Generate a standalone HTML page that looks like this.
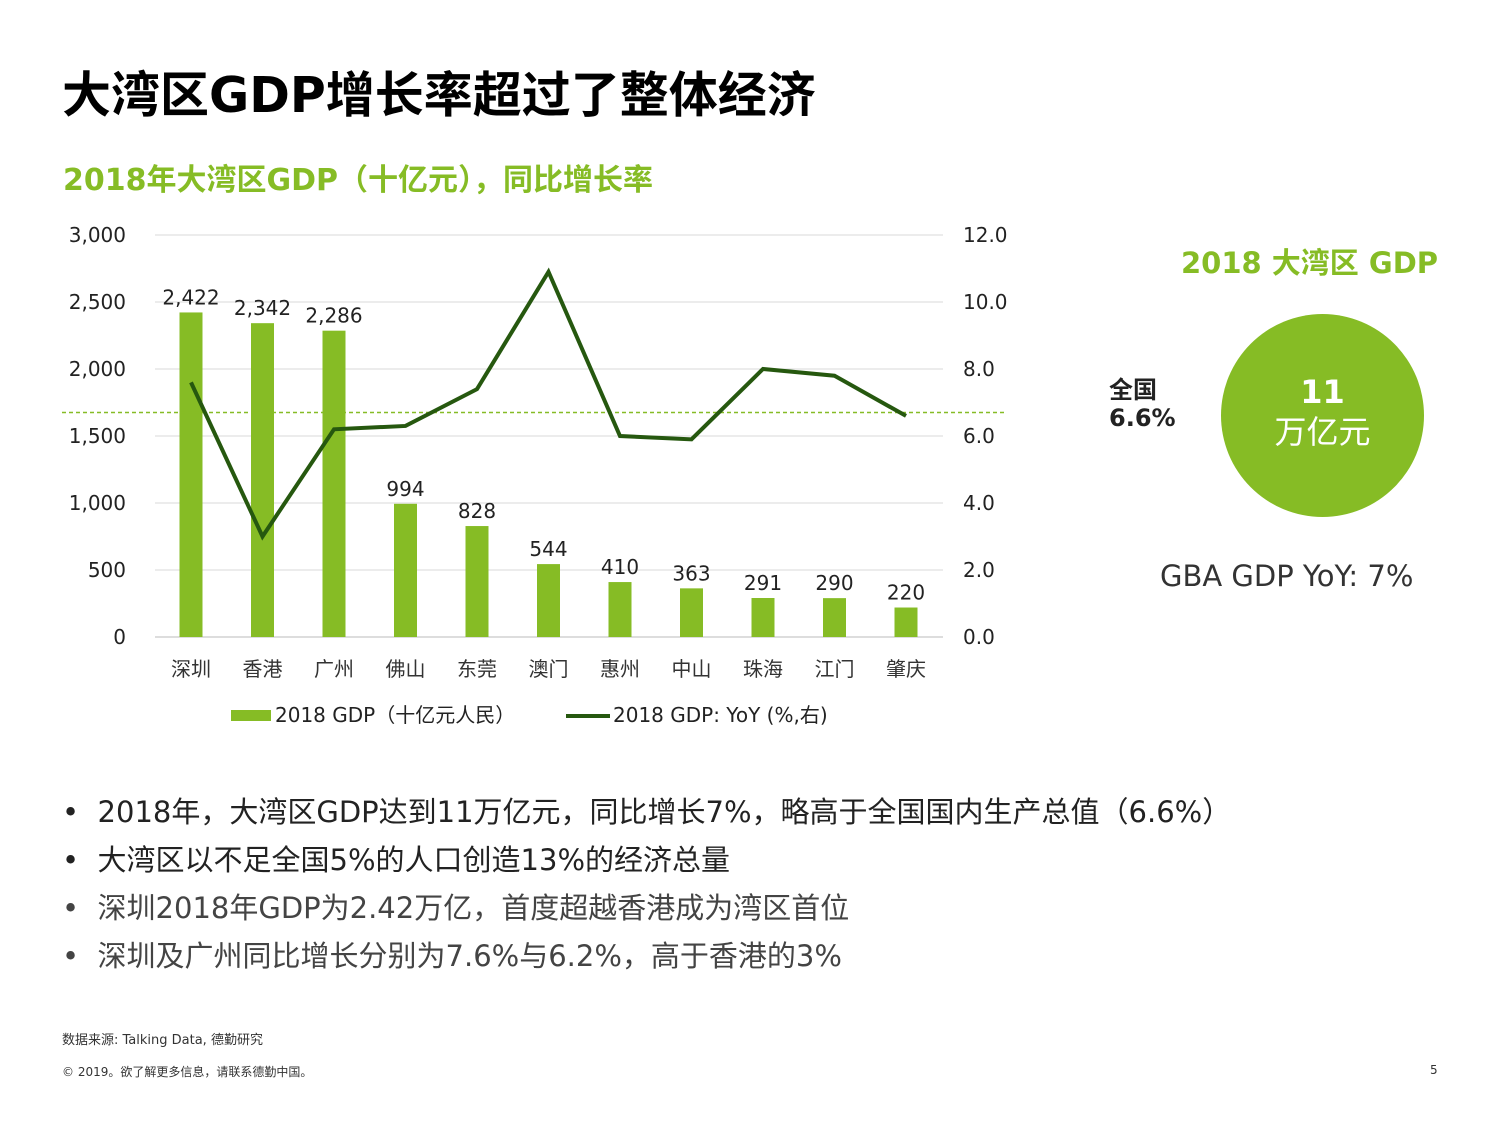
<!DOCTYPE html>
<html><head><meta charset="utf-8">
<style>
body{margin:0;width:1500px;height:1125px;background:#fff;position:relative;overflow:hidden;font-family:"DejaVu Sans","Noto Sans CJK SC",sans-serif;color:#000}
.a{position:absolute;white-space:nowrap}
</style></head><body>
<div class="a" style="left:62px;top:56px;font-size:49px;font-weight:bold;">大湾区GDP增长率超过了整体经济</div>
<div class="a" style="left:63px;top:155px;font-size:30px;font-weight:bold;color:#86bc25">2018年大湾区GDP（十亿元），同比增长率</div>
<svg class="a" style="left:0;top:0" width="1500" height="1125">
<g id="g"></g>
</svg>
<div class="a" style="left:1181px;top:240px;font-size:29px;font-weight:bold;color:#86bc25">2018 大湾区 GDP</div>
<div class="a" style="left:1109px;top:376px;font-size:24px;font-weight:bold;line-height:28px;color:#222">全国<br>6.6%</div>
<div class="a" style="left:1221px;top:314px;width:203px;height:203px;border-radius:50%;background:#86bc25;color:#fff;text-align:center">
<div style="margin-top:60px;font-size:32px;font-weight:bold;line-height:36px">11</div>
<div style="font-size:32px;line-height:44px">万亿元</div></div>
<div class="a" style="left:1160px;top:559px;font-size:29px;color:#333">GBA GDP YoY: 7%</div>
<div class="a" style="left:62px;top:788px;font-size:29px;line-height:48px;color:#222">
<div>•&nbsp; 2018年，大湾区GDP达到11万亿元，同比增长7%，略高于全国国内生产总值（6.6%）</div>
<div>•&nbsp; 大湾区以不足全国5%的人口创造13%的经济总量</div>
<div style="color:#444">•&nbsp; 深圳2018年GDP为2.42万亿，首度超越香港成为湾区首位</div>
<div style="color:#444">•&nbsp; 深圳及广州同比增长分别为7.6%与6.2%，高于香港的3%</div></div>
<div class="a" style="left:62px;top:1029px;font-size:13px;color:#333">数据来源: Talking Data, 德勤研究</div>
<div class="a" style="left:62px;top:1063px;font-size:12px;color:#333">© 2019。欲了解更多信息，请联系德勤中国。</div>
<div class="a" style="left:1430px;top:1063px;font-size:12px;color:#333">5</div>
<script>
const categories=["深圳","香港","广州","佛山","东莞","澳门","惠州","中山","珠海","江门","肇庆"];
const gdpValues=[2422,2342,2286,994,828,544,410,363,291,290,220];
const yoyValues=[7.6,3.0,6.2,6.3,7.4,10.9,6.0,5.9,8.0,7.8,6.6];
const leftTicks=[0,500,1000,1500,2000,2500,3000];
const rightTicks=[0,2,4,6,8,10,12];
const nationalRate=6.7;
const NS="http://www.w3.org/2000/svg";
const g=document.getElementById('g');
const x0=155,x1=943,yb=637,yt=235;
const yL=v=>yb-(v/3000)*(yb-yt);
const yR=v=>yb-(v/12)*(yb-yt);
const step=71.5,xc=i=>191+i*step;
function el(t,a,txt){const e=document.createElementNS(NS,t);for(const k in a)e.setAttribute(k,a[k]);if(txt!==undefined)e.textContent=txt;g.appendChild(e);return e;}
const F='DejaVu Sans, Noto Sans CJK SC, sans-serif';
leftTicks.forEach((v,i)=>{
 const gl=el('line',{x1:x0,x2:x1,y1:yL(v),y2:yL(v),stroke:v===0?'#bbb':'#d9d9d9','stroke-width':1});
 
 
 const t=el('text',{x:126,y:yL(v)+7,'text-anchor':'end','font-size':20,'font-family':F,fill:'#222'},v.toLocaleString('en-US'));
 
 
});
rightTicks.forEach(v=>{
 const t=el('text',{x:963,y:yR(v)+7,'font-size':20,'font-family':F,fill:'#222'},v.toFixed(1));
 
 
});
categories.forEach((c,i)=>{
 const b=el('rect',{x:xc(i)-11.5,y:yL(gdpValues[i]),width:23,height:yb-yL(gdpValues[i]),fill:'#86bc25'});
 
 
 const l=el('text',{x:xc(i),y:yL(gdpValues[i])-8,'text-anchor':'middle','font-size':20,'font-family':F,fill:'#222'},gdpValues[i].toLocaleString('en-US'));
 
 
 const ct=el('text',{x:xc(i),y:676,'text-anchor':'middle','font-size':20,'font-family':F,fill:'#333'},c);
 
 
});
const nl=el('line',{x1:62,x2:1005,y1:yR(nationalRate),y2:yR(nationalRate),stroke:'#86bc25','stroke-width':1.5,'stroke-dasharray':'4,3'});


const ln=el('polyline',{points:yoyValues.map((v,i)=>xc(i)+','+yR(v)).join(' '),fill:'none',stroke:'#26580f','stroke-width':4,'stroke-linejoin':'miter'});


const lg1=el('rect',{x:231,y:710,width:40,height:11,fill:'#86bc25'});


const lt1=el('text',{x:275,y:722,'font-size':20,'font-family':F,fill:'#222'},'2018 GDP（十亿元人民）');


const lg2=el('line',{x1:566,x2:610,y1:716,y2:716,stroke:'#26580f','stroke-width':4});


const lt2=el('text',{x:613,y:722,'font-size':20,'font-family':F,fill:'#222'},'2018 GDP: YoY (%,右)');


</script>
</body></html>
